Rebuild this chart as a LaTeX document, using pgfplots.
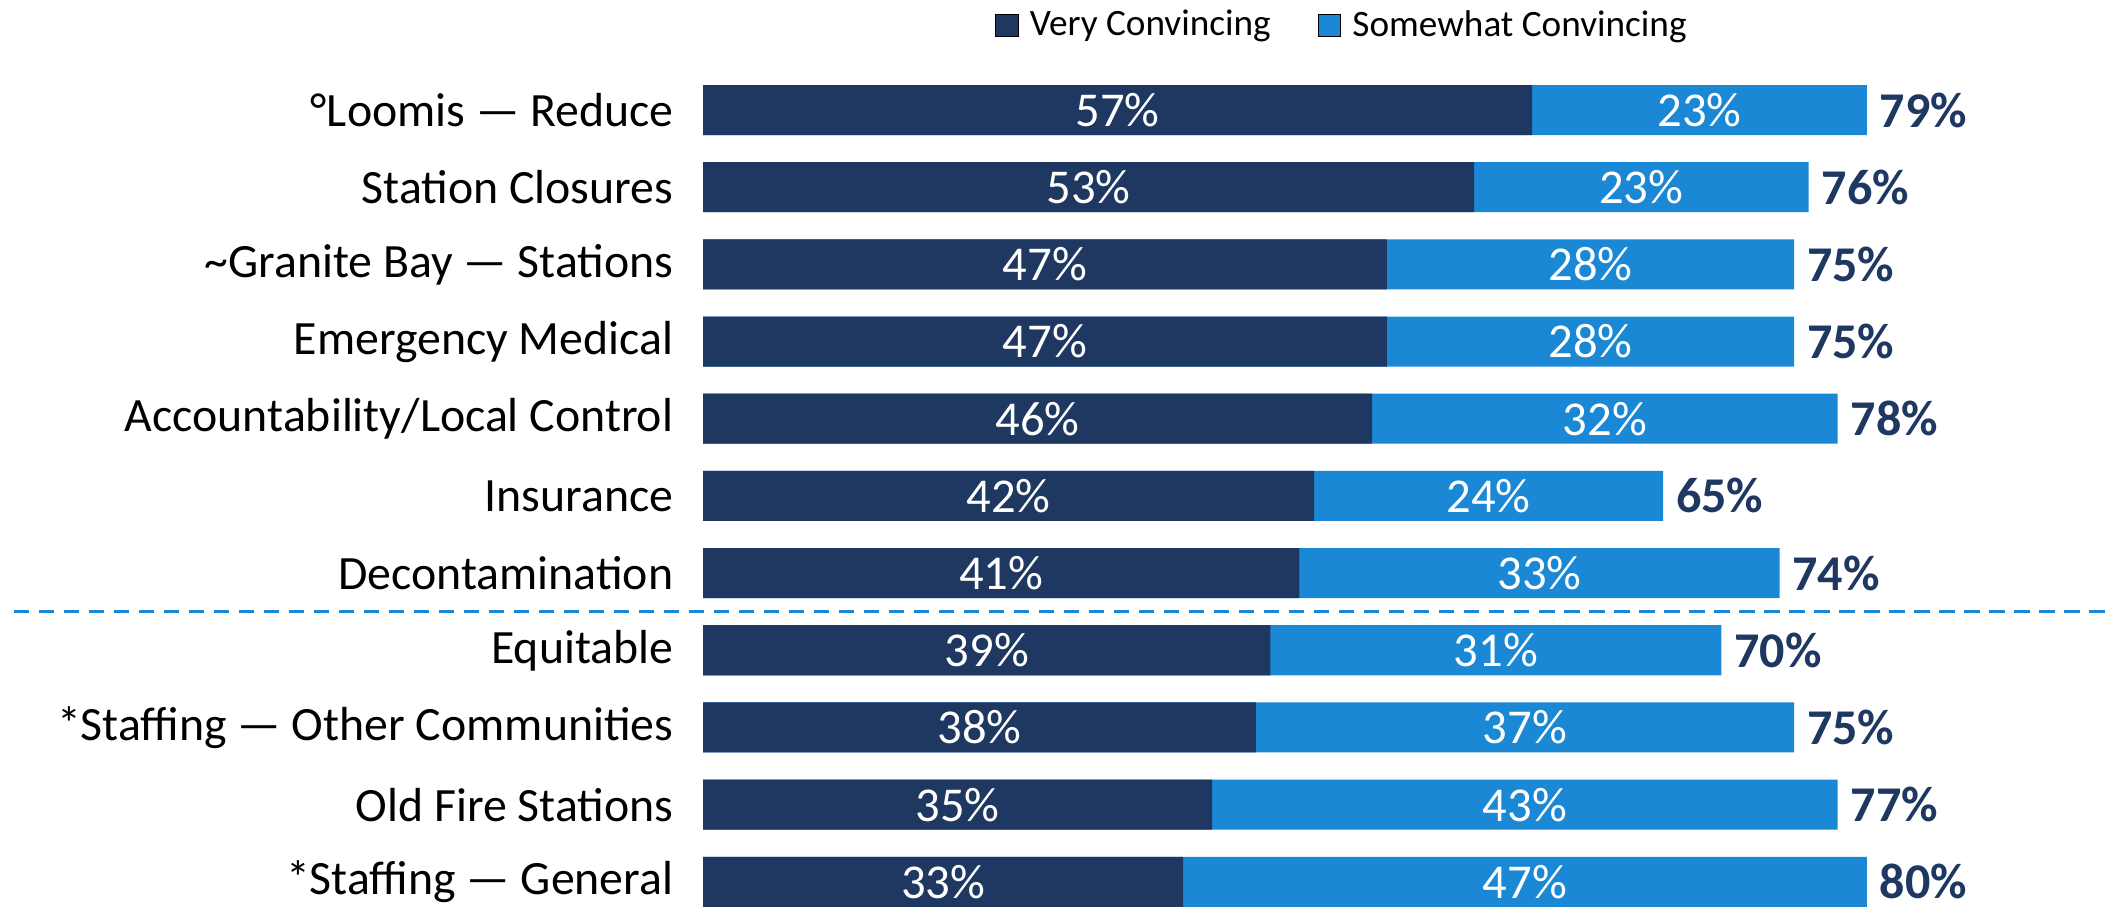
\documentclass[border=0pt]{standalone}
\usepackage{fontspec}
\setmainfont{Carlito}
\usepackage{pgfplots}
\usepackage{pgfplotstable}
\pgfplotsset{compat=1.18}

\definecolor{dk}{RGB}{30,56,97}
\definecolor{lt}{RGB}{27,136,214}

% y: 10 = top row
\pgfplotstableread{
y  v1 v2 tot
10 57 23 79
9  53 23 76
8  47 28 75
7  47 28 75
6  46 32 78
5  42 24 65
4  41 33 74
3  39 31 70
2  38 37 75
1  35 43 77
0  33 47 80
}\data

\begin{document}
\begin{tikzpicture}
\useasboundingbox (0,0) rectangle (760pt,327.5pt);
\begin{axis}[
    at={(253pt,1.5pt)}, anchor=south west,
    scale only axis,
    width=506.7pt, height=326.4pt,
    xmin=0, xmax=96.8,
    ymin=-0.313, ymax=11.44,
    axis line style={draw=none},
    xtick=\empty,
    ytick={0,...,10},
    ytick style={draw=none},
    yticklabels={
        *Staffing — General,
        Old Fire Stations,
        *Staffing — Other Communities,
        Equitable,
        Decontamination,
        Insurance,
        Accountability/Local Control,
        Emergency Medical,
        \textasciitilde Granite Bay — Stations,
        Station Closures,
        °Loomis — Reduce
    },
    yticklabel style={font=\fontsize{17.2}{20}\selectfont, inner sep=0pt, xshift=-10.5pt},
    clip=false,
    legend columns=2,
    legend style={at={(0.455,0.971)}, anchor=center, draw=none,
        font=\fontsize{13.4}{15}\selectfont,
        /tikz/every even column/.append style={column sep=15pt}},
    legend image code/.code={\fill[#1] (0pt,-4pt) rectangle (8pt,4pt); \path (10pt,0pt);},
]
\addlegendimage{fill=dk}
\addlegendentry{Very Convincing}
\addlegendimage{fill=lt}
\addlegendentry{Somewhat Convincing}

\addplot[xbar, bar width=18pt, bar shift=0pt, fill=lt, draw=none, forget plot]
    table[x expr=\thisrow{v1}+\thisrow{v2}, y=y] {\data};
\addplot[xbar, bar width=18pt, bar shift=0pt, fill=dk, draw=none, forget plot]
    table[x=v1, y=y] {\data};

\addplot[draw=none, mark=none, forget plot, point meta=explicit symbolic,
    nodes near coords={\pgfplotspointmeta\%},
    every node near coord/.style={anchor=center, text=white, font=\fontsize{17.5}{20}\selectfont}]
    table[x expr=\thisrow{v1}/2, y=y, meta=v1] {\data};
\addplot[draw=none, mark=none, forget plot, point meta=explicit symbolic,
    nodes near coords={\pgfplotspointmeta\%},
    every node near coord/.style={anchor=center, text=white, font=\fontsize{17.5}{20}\selectfont}]
    table[x expr=\thisrow{v1}+\thisrow{v2}/2, y=y, meta=v2] {\data};
\addplot[draw=none, mark=none, forget plot, point meta=explicit symbolic,
    nodes near coords={\pgfplotspointmeta\%},
    every node near coord/.style={anchor=west, inner sep=0pt, xshift=4.5pt, text=dk, font=\fontsize{18}{20}\selectfont\bfseries}]
    table[x expr=\thisrow{v1}+\thisrow{v2}, y=y, meta=tot] {\data};

\draw[lt, line width=1.1pt, dash pattern=on 5.5pt off 3.5pt]
    (axis cs:-47.4,3.5) -- (axis cs:96.8,3.5);
\end{axis}
\end{tikzpicture}
\end{document}
